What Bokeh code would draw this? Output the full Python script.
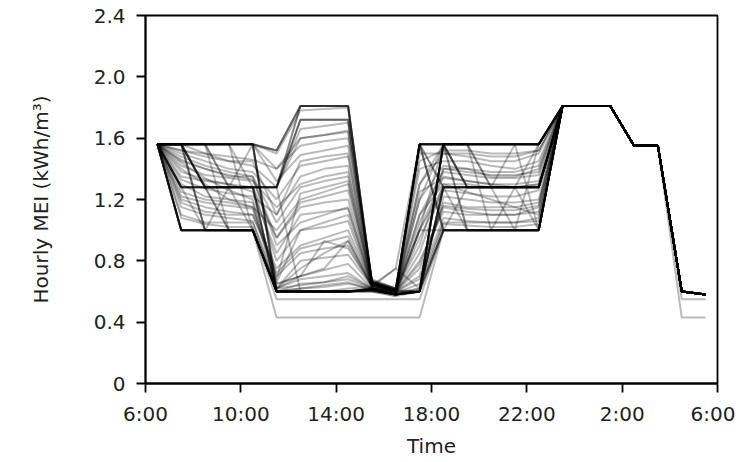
from bokeh.plotting import figure
from bokeh.models import Range1d, FixedTicker
from bokeh.embed import file_html
from bokeh.resources import INLINE

# hours after 6:00 (each value sits at the middle of its hour)
hours = [0.5, 1.5, 2.5, 3.5, 4.5, 5.5, 6.5, 7.5, 8.5, 9.5, 10.5, 11.5,
         12.5, 13.5, 14.5, 15.5, 16.5, 17.5, 18.5, 19.5, 20.5, 21.5, 22.5, 23.5]

x_ticks = [0, 4, 8, 12, 16, 20, 24]
x_labels = ["6:00", "10:00", "14:00", "18:00", "22:00", "2:00", "6:00"]
y_ticks = [0, 0.4, 0.8, 1.2, 1.6, 2.0, 2.4]
y_labels = ["0", "0.4", "0.8", "1.2", "1.6", "2.0", "2.4"]

# hourly MEI for each schedule (kWh/m3)
mei = [
    [1.56,1.56,1.56,1.56,1.56, 0.60,0.60,0.60,0.60,0.62,0.58, 0.60, 1.56,1.56,1.56,1.56,1.56, 1.81,1.81,1.81,1.55,1.55,0.60,0.58],
    [1.56,1.00,1.00,1.00,1.00, 0.60,0.60,0.60,0.60,0.61,0.58, 0.60, 1.00,1.00,1.00,1.00,1.00, 1.81,1.81,1.81,1.55,1.55,0.60,0.58],
    [1.56,1.56,1.28,1.28,1.28, 1.28,0.60,0.60,0.60,0.62,0.59, 1.56, 1.28,1.28,1.28,1.28,1.28, 1.81,1.81,1.81,1.55,1.55,0.60,0.58],
    [1.56,1.56,1.56,1.56,1.56, 1.52,1.81,1.81,1.81,0.66,0.60, 1.56, 1.56,1.56,1.56,1.56,1.56, 1.81,1.81,1.81,1.55,1.55,0.60,0.58],
    [1.56,1.56,1.00,1.00,1.00, 0.60,0.60,0.60,0.60,0.60,0.57, 1.56, 1.56,1.56,1.56,1.56,1.00, 1.81,1.81,1.81,1.55,1.55,0.60,0.58],
    [1.56,1.28,1.28,1.28,1.28, 1.28,1.72,1.72,1.72,0.67,0.61, 0.60, 1.56,1.28,1.28,1.28,1.28, 1.81,1.81,1.81,1.55,1.55,0.60,0.58],
    [1.56,1.56,1.56,1.56,1.56, 1.32,1.49,1.52,1.55,0.68,0.62, 1.56, 1.56,1.56,1.56,1.56,1.56, 1.81,1.81,1.81,1.55,1.55,0.60,0.58],
    [1.56,1.00,1.00,1.00,1.00, 0.55,0.55,0.55,0.55,0.55,0.55, 0.55, 1.00,1.00,1.00,1.00,1.00, 1.81,1.81,1.81,1.55,1.55,0.55,0.55],
    [1.56,1.00,1.00,1.00,1.00, 0.43,0.43,0.43,0.43,0.43,0.43, 0.43, 1.00,1.00,1.00,1.00,1.00, 1.81,1.81,1.81,1.55,1.55,0.43,0.43],
    [1.56,1.56,1.56,1.28,1.28, 0.60,0.60,0.60,0.62,0.63,0.60, 1.20, 1.56,1.56,1.28,1.28,1.28, 1.81,1.81,1.81,1.55,1.55,0.60,0.58],
    [1.56,1.40,1.30,1.20,1.15, 1.00,1.20,1.25,1.30,0.65,0.60, 1.10, 1.30,1.25,1.20,1.15,1.10, 1.81,1.81,1.81,1.55,1.55,0.60,0.58],
    [1.56,1.45,1.40,1.35,1.35, 0.90,1.05,1.10,1.15,0.64,0.61, 0.90, 1.40,1.40,1.35,1.35,1.40, 1.81,1.81,1.81,1.55,1.55,0.60,0.58],
    [1.56,1.20,1.15,1.12,1.10, 0.75,0.90,0.95,1.00,0.64,0.60, 0.75, 1.15,1.12,1.10,1.10,1.15, 1.81,1.81,1.81,1.55,1.55,0.60,0.58],
    [1.56,1.56,1.50,1.45,1.45, 1.10,1.35,1.40,1.42,0.66,0.62, 1.30, 1.50,1.48,1.45,1.45,1.50, 1.81,1.81,1.81,1.55,1.55,0.60,0.58],
    [1.56,1.30,1.22,1.20,1.18, 0.62,0.75,0.85,0.93,0.63,0.75, 0.62, 1.22,1.20,1.18,1.18,1.20, 1.81,1.81,1.81,1.55,1.55,0.60,0.58],
    [1.56,1.56,1.56,1.00,1.00, 0.60,0.60,0.60,0.60,0.61,0.58, 0.62, 1.00,1.00,1.00,1.28,1.28, 1.81,1.81,1.81,1.55,1.55,0.60,0.58],
    [1.56,1.10,1.05,1.05,1.05, 0.62,0.68,0.70,0.72,0.62,0.59, 0.65, 1.05,1.05,1.05,1.05,1.08, 1.81,1.81,1.81,1.55,1.55,0.60,0.58],
    [1.56,1.50,1.45,1.40,1.38, 1.20,1.42,1.45,1.48,0.66,0.62, 1.40, 1.45,1.45,1.42,1.40,1.45, 1.81,1.81,1.81,1.55,1.55,0.60,0.58],
    [1.56,1.56,1.28,1.00,1.00, 0.62,0.80,0.82,0.84,0.63,0.60, 0.60, 1.56,1.00,1.00,1.00,1.00, 1.81,1.81,1.81,1.55,1.55,0.60,0.58],
    [1.56,1.56,1.56,1.56,1.56, 0.60,0.62,0.63,0.65,0.62,0.60, 1.56, 1.56,1.56,1.56,1.56,1.56, 1.81,1.81,1.81,1.55,1.55,0.60,0.58],
    [1.56,1.35,1.32,1.30,1.28, 0.80,1.00,1.05,1.10,0.64,0.60, 0.85, 1.30,1.30,1.28,1.28,1.30, 1.81,1.81,1.81,1.55,1.55,0.60,0.58],
    [1.56,1.25,1.20,1.18,1.15, 0.70,0.85,0.88,0.90,0.63,0.60, 0.70, 1.18,1.15,1.15,1.15,1.18, 1.81,1.81,1.81,1.55,1.55,0.60,0.58],
    [1.56,1.48,1.42,1.38,1.35, 1.05,1.28,1.32,1.35,0.65,0.61, 1.20, 1.42,1.40,1.38,1.38,1.42, 1.81,1.81,1.81,1.55,1.55,0.60,0.58],
    [1.56,1.56,1.28,1.28,1.28, 0.60,0.60,0.60,0.60,0.62,0.58, 0.60, 1.28,1.28,1.28,1.28,1.28, 1.81,1.81,1.81,1.55,1.55,0.60,0.58],
    [1.56,1.00,1.00,1.28,1.28, 0.95,1.15,1.18,1.20,0.64,0.60, 1.00, 1.00,1.28,1.28,1.28,1.00, 1.81,1.81,1.81,1.55,1.55,0.60,0.58],
    [1.56,1.56,1.56,1.56,1.28, 0.60,0.60,0.60,0.60,0.60,0.57, 0.60, 1.56,1.56,1.56,1.56,1.56, 1.81,1.81,1.81,1.55,1.55,0.60,0.58],
    [1.56,1.15,1.10,1.08,1.06, 0.65,0.70,0.74,0.78,0.62,0.60, 0.68, 1.08,1.06,1.05,1.05,1.06, 1.81,1.81,1.81,1.55,1.55,0.60,0.58],
    [1.56,1.52,1.48,1.45,1.42, 1.28,1.60,1.62,1.65,0.67,0.62, 1.50, 1.50,1.50,1.48,1.48,1.52, 1.81,1.81,1.81,1.55,1.55,0.60,0.58],
    [1.56,1.56,1.56,1.28,1.00, 0.62,0.70,0.75,0.93,0.64,0.75, 1.56, 1.56,1.28,1.28,1.56,1.56, 1.81,1.81,1.81,1.55,1.55,0.60,0.58],
    [1.56,1.38,1.33,1.30,1.25, 0.85,1.10,1.12,1.14,0.64,0.61, 1.00, 1.35,1.32,1.30,1.30,1.32, 1.81,1.81,1.81,1.55,1.55,0.60,0.58],
    [1.56,1.56,1.00,1.00,1.00, 0.60,0.60,0.60,0.60,0.61,0.58, 1.00, 1.56,1.56,1.00,1.00,1.00, 1.81,1.81,1.81,1.55,1.55,0.60,0.58],
    [1.56,1.28,1.28,1.28,1.56, 0.60,0.65,0.66,0.68,0.62,0.59, 0.60, 1.28,1.28,1.28,1.28,1.56, 1.81,1.81,1.81,1.55,1.55,0.60,0.58],
    [1.56,1.42,1.36,1.34,1.32, 1.15,1.30,1.35,1.38,0.65,0.61, 1.10, 1.38,1.36,1.34,1.34,1.36, 1.81,1.81,1.81,1.55,1.55,0.60,0.58],
    [1.56,1.00,1.00,1.00,1.00, 0.60,0.60,0.60,0.60,0.61,0.58, 0.60, 1.56,1.56,1.56,1.56,1.56, 1.81,1.81,1.81,1.55,1.55,0.60,0.58],
    [1.56,1.56,1.56,1.56,1.56, 0.60,0.60,0.60,0.60,0.62,0.58, 0.60, 1.00,1.00,1.00,1.00,1.00, 1.81,1.81,1.81,1.55,1.55,0.60,0.58],
    [1.56,1.56,1.28,1.28,1.28, 1.28,1.72,1.72,1.72,0.66,0.60, 1.56, 1.28,1.28,1.28,1.28,1.28, 1.81,1.81,1.81,1.55,1.55,0.60,0.58],
    [1.56,1.18,1.12,1.10,1.10, 0.72,0.88,0.92,0.96,0.63,0.60, 0.80, 1.12,1.10,1.10,1.10,1.12, 1.81,1.81,1.81,1.55,1.55,0.60,0.58],
    [1.56,1.46,1.40,1.36,1.33, 0.95,1.18,1.22,1.26,0.64,0.61, 1.05, 1.40,1.38,1.36,1.36,1.38, 1.81,1.81,1.81,1.55,1.55,0.60,0.58],
    [1.56,1.56,1.56,1.56,1.56, 1.52,1.81,1.81,1.81,0.65,0.60, 1.30, 1.56,1.56,1.56,1.56,1.56, 1.81,1.81,1.81,1.55,1.55,0.60,0.58],
    [1.56,1.56,1.28,1.28,1.28, 1.28,1.81,1.81,1.81,0.66,0.61, 1.56, 1.56,1.56,1.28,1.28,1.28, 1.81,1.81,1.81,1.55,1.55,0.60,0.58],
    [1.56,1.56,1.56,1.56,1.56, 1.50,1.78,1.79,1.80,0.66,0.61, 1.56, 1.56,1.56,1.56,1.56,1.56, 1.81,1.81,1.81,1.55,1.55,0.60,0.58],
    [1.56,1.28,1.28,1.28,1.28, 1.28,1.66,1.68,1.70,0.66,0.60, 1.00, 1.28,1.28,1.28,1.28,1.28, 1.81,1.81,1.81,1.55,1.55,0.60,0.58],
    [1.56,1.56,1.56,1.56,1.56, 0.65,0.70,0.93,0.88,0.64,0.60, 0.60, 1.56,1.56,1.56,1.56,1.56, 1.81,1.81,1.81,1.55,1.55,0.60,0.58],
    [1.56,1.56,1.00,1.00,1.00, 0.60,0.60,0.60,0.60,0.61,0.58, 0.60, 1.56,1.00,1.00,1.00,1.00, 1.81,1.81,1.81,1.55,1.55,0.60,0.58],
    [1.56,1.00,1.00,1.00,1.00, 0.60,0.62,0.64,0.66,0.61,0.58, 1.56, 1.56,1.56,1.56,1.56,1.56, 1.81,1.81,1.81,1.55,1.55,0.60,0.58],
    [1.56,1.56,1.56,1.56,1.00, 0.60,0.60,0.60,0.60,0.62,0.58, 0.60, 1.00,1.00,1.00,1.00,1.56, 1.81,1.81,1.81,1.55,1.55,0.60,0.58],
    [1.56,1.28,1.28,1.00,1.00, 0.60,0.60,0.60,0.60,0.61,0.58, 0.60, 1.28,1.28,1.28,1.00,1.00, 1.81,1.81,1.81,1.55,1.55,0.60,0.58],
    [1.56,1.44,1.34,1.26,1.20, 0.68,1.24,1.28,1.32,0.65,0.60, 0.95, 1.26,1.24,1.22,1.22,1.26, 1.81,1.81,1.81,1.55,1.55,0.60,0.58],
    [1.56,1.33,1.27,1.24,1.22, 1.10,1.45,1.48,1.50,0.65,0.61, 1.25, 1.34,1.32,1.30,1.28,1.30, 1.81,1.81,1.81,1.55,1.55,0.60,0.58],
    [1.56,1.22,1.18,1.16,1.14, 0.66,1.00,1.02,1.06,0.63,0.60, 0.78, 1.16,1.14,1.13,1.13,1.16, 1.81,1.81,1.81,1.55,1.55,0.60,0.58],
    [1.56,1.52,1.50,1.48,1.46, 1.40,1.55,1.58,1.60,0.67,0.62, 1.45, 1.52,1.52,1.50,1.50,1.52, 1.81,1.81,1.81,1.55,1.55,0.60,0.58],
    [1.56,1.08,1.04,1.02,1.02, 0.62,0.64,0.66,0.70,0.62,0.59, 0.62, 1.04,1.03,1.02,1.02,1.04, 1.81,1.81,1.81,1.55,1.55,0.60,0.58],
    [1.56,1.56,1.56,1.56,1.56, 1.40,1.60,1.62,1.64,0.66,0.61, 1.56, 1.56,1.56,1.56,1.56,1.56, 1.81,1.81,1.81,1.55,1.55,0.60,0.58],
    [1.56,1.00,1.00,1.00,1.00, 0.60,0.60,0.60,0.60,0.61,0.58, 0.60, 1.28,1.28,1.28,1.28,1.28, 1.81,1.81,1.81,1.55,1.55,0.60,0.58],
    [1.56,1.28,1.28,1.28,1.28, 1.28,1.81,1.81,1.81,0.65,0.60, 1.56, 1.00,1.00,1.00,1.00,1.00, 1.81,1.81,1.81,1.55,1.55,0.60,0.58],
    [1.56,1.28,1.28,1.28,1.28, 0.60,0.60,0.60,0.60,0.62,0.58, 0.60, 1.28,1.28,1.28,1.28,1.28, 1.81,1.81,1.81,1.55,1.55,0.60,0.58],
    [1.56,1.00,1.00,1.00,1.00, 0.60,0.60,0.60,0.60,0.60,0.58, 1.56, 1.00,1.00,1.00,1.00,1.00, 1.81,1.81,1.81,1.55,1.55,0.60,0.58],
    [1.56,1.56,1.56,1.56,1.56, 1.52,1.81,1.81,1.81,0.66,0.61, 1.56, 1.00,1.00,1.00,1.00,1.00, 1.81,1.81,1.81,1.55,1.55,0.60,0.58],
    [1.56,1.56,1.28,1.28,1.28, 1.28,1.72,1.72,1.72,0.66,0.60, 0.60, 1.56,1.28,1.28,1.28,1.28, 1.81,1.81,1.81,1.55,1.55,0.60,0.58],
    [1.56,1.00,1.00,1.00,1.00, 0.60,0.60,0.60,0.60,0.61,0.58, 0.60, 1.56,1.28,1.28,1.28,1.28, 1.81,1.81,1.81,1.55,1.55,0.60,0.58],
    [1.56,1.28,1.00,1.00,1.00, 0.60,0.60,0.60,0.60,0.61,0.58, 0.60, 1.28,1.00,1.00,1.00,1.00, 1.81,1.81,1.81,1.55,1.55,0.60,0.58],
]

FONT = "DejaVu Sans"

p = figure(width=735, height=460, output_backend="svg", toolbar_location=None,
           x_range=Range1d(0, 24), y_range=Range1d(0, 2.4),
           min_border_left=145, min_border_right=18, min_border_top=15, min_border_bottom=76)
p.background_fill_color = "white"
p.border_fill_color = "white"
p.grid.visible = False
p.outline_line_color = "black"
p.outline_line_width = 1.8
p.outline_line_alpha = 1.0

p.multi_line(xs=[hours] * len(mei), ys=mei, line_color="black", line_alpha=0.27, line_width=2.0)

p.xaxis.ticker = FixedTicker(ticks=x_ticks)
p.xaxis.major_label_overrides = dict(zip(x_ticks, x_labels))
p.yaxis.ticker = FixedTicker(ticks=y_ticks)
p.yaxis.major_label_overrides = dict(zip(y_ticks, y_labels))
p.xaxis.axis_label = "Time"
p.yaxis.axis_label = "Hourly MEI (kWh/m³)"

for ax in (p.xaxis, p.yaxis):
    ax.axis_line_color = "black"
    ax.axis_line_width = 1.8
    ax.major_tick_line_color = "black"
    ax.major_tick_line_width = 1.8
    ax.major_tick_out = 9
    ax.major_tick_in = 0
    ax.minor_tick_line_color = None
    ax.major_label_text_font = FONT
    ax.major_label_text_font_size = "20px"
    ax.major_label_text_color = "#222222"
    ax.axis_label_text_font = FONT
    ax.axis_label_text_font_size = "20px"
    ax.axis_label_text_font_style = "normal"
    ax.axis_label_text_color = "#222222"

p.xaxis.major_label_standoff = 9
p.xaxis.axis_label_standoff = 5
p.yaxis.major_label_standoff = 11
p.yaxis.axis_label_standoff = 38

open("out.html", "w").write(file_html(p, INLINE))
